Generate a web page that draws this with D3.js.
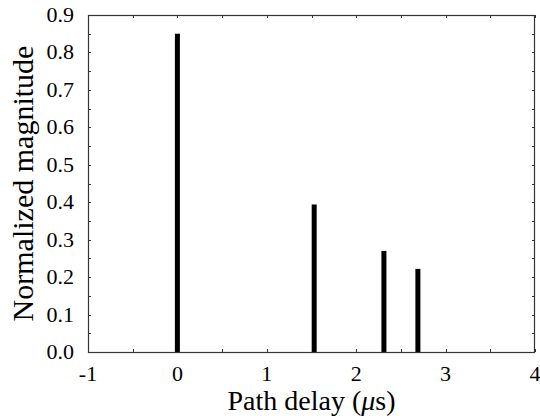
<!DOCTYPE html>
<html>
<head>
<meta charset="utf-8">
<script src="https://cdn.jsdelivr.net/npm/d3@7"></script>
</head>
<body style="margin:0">
<script>
// path delays (us) and normalized magnitudes
const delays = [0, 1.53, 2.31, 2.69];
const magnitudes = [0.85, 0.394, 0.27, 0.222];
const xTicks = [-1, 0, 1, 2, 3, 4];
const yTicks = [0, 0.1, 0.2, 0.3, 0.4, 0.5, 0.6, 0.7, 0.8, 0.9];

const width = 540, height = 416;
const margin = {left: 88, right: 5, top: 15, bottom: 64};

const x = d3.scaleLinear().domain([-1, 4]).range([margin.left, width - margin.right]);
const y = d3.scaleLinear().domain([0, 0.9]).range([height - margin.bottom, margin.top]);

const svg = d3.select("body").append("svg")
    .attr("width", width)
    .attr("height", height);

const x0 = x.range()[0], x1 = x.range()[1];
const y0 = y.range()[0], y1 = y.range()[1];

// place a text by its width instead of text-anchor
function addText(str, size, px, py, anchor) {
    const t = svg.append("text")
        .attr("x", px).attr("y", py)
        .attr("font-size", size)
        .style("font-family", "\"Times New Roman\"")
        .text(str);
    const w = t.node().getComputedTextLength();
    const shift = anchor === "middle" ? w / 2 : anchor === "end" ? w : 0;
    t.attr("x", px - shift);
    return t;
}

// tick labels
xTicks.forEach(d => addText(String(d), 22, x(d), 381, "middle"));
yTicks.forEach(d => addText(d.toFixed(1), 22, 74, y(d) + 7, "end"));

// y title, rotated
const yt = addText("Normalized magnitude", 30, 0, 0, "middle");
yt.attr("transform", "translate(33," + ((y0 + y1) / 2) + ") rotate(-90)");

// x title with italic mu
const xl = svg.append("text")
    .attr("x", 0).attr("y", 410)
    .attr("font-size", 28)
    .style("font-family", "\"Times New Roman\"");
xl.append("tspan").text("Path delay (");
xl.append("tspan").style("font-style", "italic").text("\u03bc");
xl.append("tspan").text("s)");
xl.attr("x", (x0 + x1) / 2 - xl.node().getComputedTextLength() / 2);

// minor + major ticks, drawn inward on all four sides
const xMinor = d3.range(-1, 4.001, 0.5);
const yMinor = d3.range(0, 0.9001, 0.05);
const tickLen = 3;
const tk = svg.append("g").attr("stroke", "#333").attr("stroke-width", 1);
xMinor.forEach(v => {
    const px = Math.round(x(v)) + 0.5;
    tk.append("line").attr("x1", px).attr("x2", px).attr("y1", y0).attr("y2", y0 - tickLen);
    tk.append("line").attr("x1", px).attr("x2", px).attr("y1", y1).attr("y2", y1 + tickLen);
});
yMinor.forEach(v => {
    const py = Math.round(y(v)) + 0.5;
    tk.append("line").attr("x1", x0).attr("x2", x0 + tickLen).attr("y1", py).attr("y2", py);
    tk.append("line").attr("x1", x1).attr("x2", x1 - tickLen).attr("y1", py).attr("y2", py);
});

// bars (stems)
svg.append("g")
  .selectAll("rect")
  .data(delays)
  .enter()
  .append("rect")
    .attr("x", d => x(d) - 2.5)
    .attr("width", 5)
    .attr("y", (d, i) => y(magnitudes[i]))
    .attr("height", (d, i) => y(0) - y(magnitudes[i]))
    .attr("fill", "#000");

// frame
svg.append("rect")
    .attr("x", x0 + 0.5).attr("y", y1 + 0.5)
    .attr("width", x1 - x0 - 1).attr("height", y0 - y1)
    .attr("fill", "none")
    .attr("stroke", "#333")
    .attr("stroke-width", 1.2);
</script>
</body>
</html>
